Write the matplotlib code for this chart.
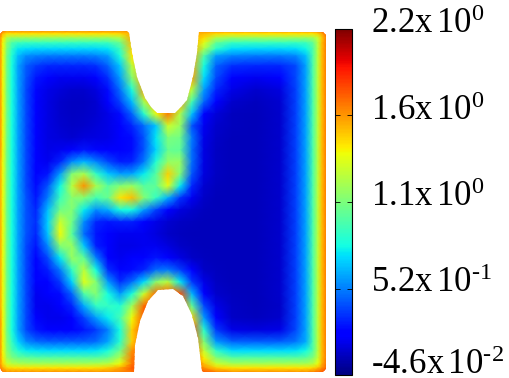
import numpy as np
import matplotlib
matplotlib.use('Agg')
import matplotlib.pyplot as plt
from matplotlib.patches import Polygon
from matplotlib.transforms import ScaledTranslation

plt.rcParams['font.family'] = ['Liberation Serif']
plt.rcParams['mathtext.fontset'] = 'custom'
plt.rcParams['mathtext.rm'] = 'Liberation Serif'
plt.rcParams['mathtext.it'] = 'Liberation Serif'
plt.rcParams['mathtext.default'] = 'rm'

W, H = 509, 378

# grid nodes, closer together near the walls
x_nodes = [0, 3, 7, 12, 18, 26, 36, 48, 60, 72, 84, 96, 108, 120, 132, 144, 156, 168, 180, 192, 204, 216, 232, 256, 280, 296, 306, 313, 318, 322, 326]
y_nodes = [31, 34, 38, 43, 49, 56, 66, 78, 90, 102, 114, 126, 138, 150, 162, 174, 186, 198, 210, 222, 234, 246, 258, 270, 282, 294, 306, 318, 330, 342, 351, 358, 364, 368, 372]

# values x 100
field = [
    [185,170,165,165,165,165,165, 165,165,165,165,165,165,165,165,160,160,160,160,160,165,165, 165,165,165,165,165,165,170,175,190],
    [172,155,145,145,145,145,145, 145,145,145,145,145,145,148,160,160,160,160,160,160,155,148, 145,145,145,145,145,145,150,160,175],
    [165,145,122,115,115,115,115, 115,115,115,115,115,115,122,160,160,160,160,160,160,148,122, 115,115,115,115,115,118,128,152,170],
    [165,140,112,95,90,88,88, 88,88,88,88,88,90,102,155,160,160,160,160,160,135,100, 88,88,88,88,90,100,125,155,170],
    [165,140,108,88,75,72,70, 70,70,70,70,70,74,90,150,160,160,160,160,160,120,85, 72,70,70,72,78,95,125,155,170],
    [165,140,105,83,65,55,52, 50,50,50,50,52,58,82,145,160,160,160,160,160,95,58, 52,50,50,54,66,95,125,155,170],
    [165,140,105,80,60,44,36, 32,32,32,32,34,45,68,125,160,160,160,160,160,80,45, 34,32,32,40,60,95,125,155,170],
    [165,140,105,80,60,42,28, 20,18,18,18,22,34,58,110,160,160,160,160,160,72,40, 22,18,20,40,60,95,125,155,170],
    [165,140,105,80,60,40,25, 16,13,11,11,14,26,48,82,160,160,160,160,125,58,32, 16,11,14,38,60,95,125,155,170],
    [165,140,105,80,60,40,24, 15,11,9,9,12,20,38,65,120,160,160,160,92,46,24, 11,8,12,38,60,95,125,155,170],
    [165,140,105,80,60,40,24, 15,11,9,10,12,16,26,46,85,138,170,122,66,24,13, 8,7,11,38,60,95,125,155,170],
    [165,140,105,80,60,40,24, 15,12,10,11,13,16,22,32,48,68,130,115,42,18,11, 8,7,11,38,60,95,125,155,170],
    [165,140,105,80,60,40,24, 15,13,12,14,15,16,20,26,42,75,108,105,50,16,10, 7,7,11,38,60,95,125,155,170],
    [165,140,105,80,60,40,24, 16,18,24,28,25,22,20,26,42,70,102,100,48,15,9, 7,7,11,38,60,95,125,155,170],
    [160,138,104,80,60,40,24, 18,32,55,64,54,40,30,32,50,84,115,115,48,15,9, 7,7,11,38,60,95,125,155,170],
    [160,138,104,80,60,40,24, 28,58,110,120,88,68,58,60,76,98,150,110,42,14,9, 7,7,11,38,60,95,125,155,170],
    [160,138,104,80,60,40,26, 42,78,125,165,120,98,110,115,98,100,135,76,32,12,8, 7,7,11,38,60,95,125,155,170],
    [160,138,104,80,60,42,28, 52,90,112,110,92,102,145,155,110,88,62,35,18,10,7, 7,7,11,38,60,95,125,155,170],
    [160,138,104,80,60,42,32, 66,105,110,76,55,62,80,80,58,38,24,14,11,8,7, 7,7,11,38,60,95,125,155,170],
    [160,138,104,80,60,42,34, 70,130,105,55,32,28,30,30,24,16,12,9,8,7,7, 7,7,11,38,60,95,125,155,170],
    [160,138,104,80,60,42,32, 68,140,98,48,28,20,18,18,18,14,10,8,7,7,7, 7,7,11,38,60,95,125,155,170],
    [160,138,104,80,60,40,28, 55,110,115,68,30,20,16,16,18,18,14,10,8,7,7, 7,7,11,38,60,95,125,155,170],
    [160,138,104,80,60,40,24, 40,75,115,100,52,24,18,20,24,28,24,15,10,8,7, 7,7,11,38,60,95,125,155,170],
    [160,138,104,80,60,40,22, 30,50,88,125,80,34,24,26,32,48,50,38,22,10,8, 7,7,11,38,60,95,125,155,170],
    [160,138,104,80,60,40,20, 24,36,70,135,110,58,34,48,72,112,125,76,36,16,9, 7,7,11,38,60,95,125,155,170],
    [160,138,104,80,60,40,18, 20,26,46,95,110,80,58,82,130,175,180,180,64,24,11, 8,7,11,38,60,95,125,155,170],
    [160,138,104,80,60,40,18, 17,20,32,62,88,88,84,118,175,180,180,180,100,40,16, 9,7,10,38,60,95,125,155,170],
    [165,140,105,80,60,40,20, 17,17,22,38,58,76,92,140,180,180,180,180,150,58,24, 10,8,11,38,60,95,125,155,170],
    [165,140,105,80,60,40,28, 22,20,22,28,36,52,80,150,180,180,180,180,180,85,36, 16,14,16,40,60,95,125,155,170],
    [165,140,108,88,70,55,48, 45,45,45,45,48,60,85,150,180,180,180,180,180,110,58, 46,45,45,50,62,95,125,155,170],
    [165,140,112,96,84,76,74, 72,72,72,72,74,82,105,165,180,180,180,180,180,128,88, 72,72,72,74,80,98,125,155,170],
    [165,142,118,108,102,100,98, 98,98,98,98,98,102,122,170,180,180,180,180,180,142,110, 98,98,98,98,100,110,128,155,170],
    [165,148,130,125,122,120,120, 120,120,120,120,122,125,140,172,180,180,180,180,180,155,130, 120,120,120,120,120,125,138,158,172],
    [170,158,148,146,145,145,145, 145,145,145,145,146,150,160,178,180,180,180,180,180,165,150, 145,145,145,145,145,148,155,165,175],
    [185,170,165,165,165,165,165, 165,165,165,165,165,165,168,172,178,180,180,180,180,178,170, 165,165,165,165,165,170,175,178,185],
]

# outline of the H shaped domain
outline_x = [3, 127, 129, 132, 137, 145, 151, 157, 175, 181, 187, 193, 197, 199, 323, 326, 326, 323, 204, 202, 198, 192, 183,
             173, 158, 148, 140, 135, 134, 3, 1, 0, 0]
outline_y = [31, 31, 33, 53, 77, 98, 107, 113, 113, 107, 100, 77, 53, 32, 32, 35, 369, 372, 372, 371, 338, 315, 296,
             289, 290, 301, 321, 345, 372, 372, 370, 367, 34]

vmin, vmax = -0.046, 2.2
cbar_ticks = [-0.046, 0.5155, 1.077, 1.6385, 2.2]
cbar_labels = [r'-4.6x$\,$10$^{\text{-2}}$', r'5.2x$\,$10$^{\text{-1}}$', r'1.1x$\,$10$^{0}$', r'1.6x$\,$10$^{0}$', r'2.2x$\,$10$^{0}$']
label_drop_px = [-1, 4, 4, 4, 4]

fig = plt.figure(figsize=(W / 100, H / 100), dpi=100)
ax = fig.add_axes([0, 0, 1, 1])

xx, yy = np.meshgrid(x_nodes, y_nodes)
mesh = ax.pcolormesh(xx, yy, np.array(field) / 100, cmap='jet', vmin=vmin, vmax=vmax, shading='gouraud')
ax.set_xlim(0, W)
ax.set_ylim(H, 0)
ax.axis('off')
clip = Polygon(np.column_stack([outline_x, outline_y]), closed=True, transform=ax.transData)
mesh.set_clip_path(clip)

cax = fig.add_axes([335 / W, 1 - 375 / H, 17 / W, 346 / H])
cb = fig.colorbar(mesh, cax=cax)
cb.set_ticks(cbar_ticks)
cb.set_ticklabels(cbar_labels)
cb.outline.set_linewidth(0.8)
cax.tick_params(axis='y', which='both', direction='in', length=3.6, width=0.6, pad=14, labelsize=25, right=True, left=True)

for lab, drop in zip(cax.get_yticklabels(), label_drop_px):
    lab.set_va('baseline')
    lab.set_transform(lab.get_transform() + ScaledTranslation(0, -drop / 100, fig.dpi_scale_trans))

plt.savefig('out.png', dpi=100)
